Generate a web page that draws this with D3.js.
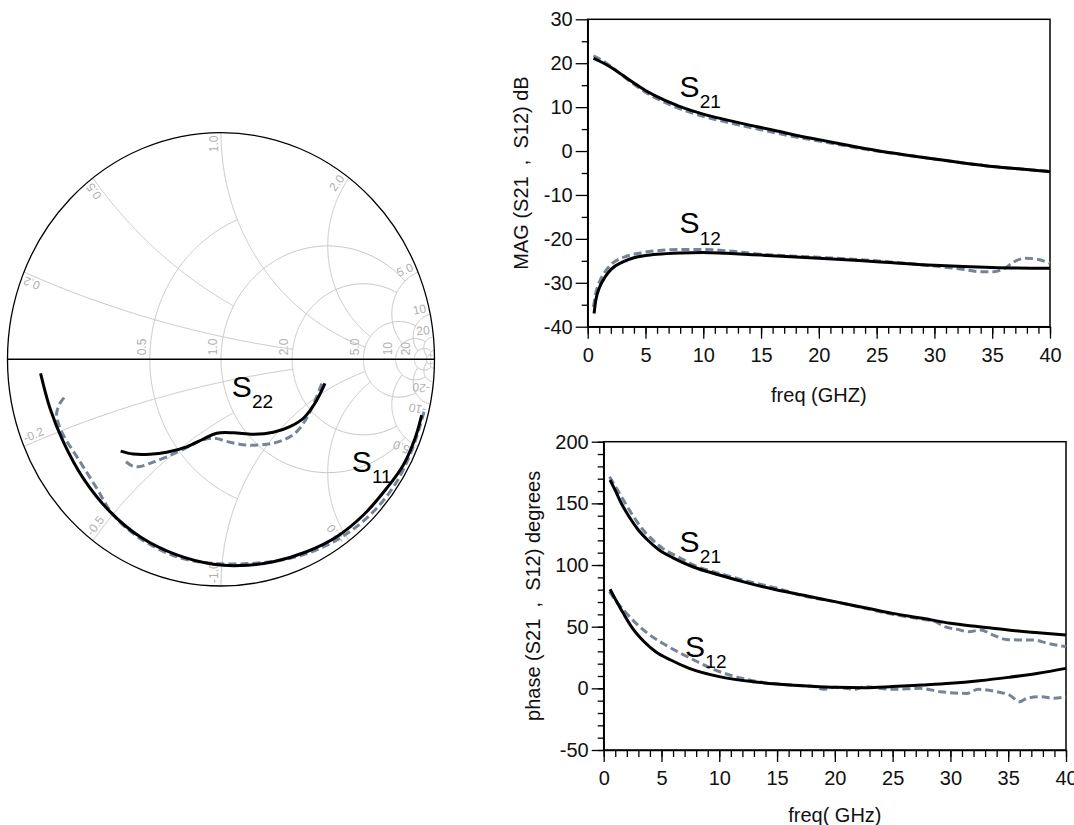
<!DOCTYPE html>
<html><head><meta charset="utf-8">
<script src="https://cdn.jsdelivr.net/npm/d3@7/dist/d3.min.js"></script>
<style>
html,body{margin:0;padding:0;background:#fff;}
svg{display:block;font-family:"Liberation Sans",Arial,Helvetica,sans-serif;}
</style></head><body>
<svg id="chart" width="1074" height="825"></svg>
<script>
// ---------------- DATA ----------------
const freqTicks = [0, 5, 10, 15, 20, 25, 30, 35, 40];
const freqMinor = d3.range(0, 41, 1);
const magTicks = [-40, -30, -20, -10, 0, 10, 20, 30];
const magMinor = [-35, -25, -15, -5, 5, 15, 25];
const phaseTicks = [-50, 0, 50, 100, 150, 200];
const phaseMinor = d3.range(-50, 201, 10);

// magnitude (dB) [GHz, dB] : solid = model, dashed = measured
const s21MagModel = [[0.5,21.1],[1,20.5],[2,19.1],[3,17.3],[4,15.5],[5,13.8],[6,12.4],[7,11.2],[8,10.1],[9,9.2],[10,8.4],[12,7.1],[14,5.9],[16,4.8],[18,3.6],[20,2.6],[22.5,1.3],[25,0.1],[27.5,-0.9],[30,-1.8],[32.5,-2.7],[35,-3.5],[37.5,-4.1],[40,-4.7]];
const s21MagMeas  = [[0.5,21.7],[1,21.0],[2,19.3],[3,17.2],[4,15.2],[5,13.4],[6,11.9],[7,10.7],[8,9.6],[9,8.7],[10,7.9],[12,6.6],[14,5.4],[16,4.3],[18,3.2],[20,2.3],[22.5,1.1],[25,0.0],[27.5,-0.9],[30,-1.8],[32.5,-2.7],[35,-3.5],[37.5,-4.1],[40,-4.6]];
const s12MagModel = [[0.55,-37.0],[0.7,-34.0],[1,-31.2],[1.5,-28.7],[2,-27.0],[3,-25.3],[4,-24.3],[5,-23.8],[6,-23.5],[8,-23.2],[10,-23.1],[12,-23.3],[15,-23.7],[20,-24.4],[25,-25.2],[30,-26.0],[35,-26.5],[40,-26.7]];
const s12MagMeas  = [[0.5,-35.5],[0.7,-32.4],[1,-29.9],[1.5,-27.5],[2,-25.9],[3,-24.3],[4,-23.5],[5,-23.0],[6,-22.7],[8,-22.4],[10,-22.4],[12,-22.7],[15,-23.5],[20,-24.2],[25,-25.0],[30,-26.2],[32.4,-26.9],[34,-27.5],[35.1,-27.5],[36.1,-26.7],[36.9,-25.2],[37.9,-24.4],[39,-24.7],[40,-25.6]];

// phase (degrees) [GHz, deg]
const s21PhModel = [[0.55,168.9],[1,160.5],[1.5,150.5],[2.2,139.2],[3,128.4],[3.8,120.3],[4.8,112.2],[6,105.8],[7.7,98.6],[10,91.9],[12.6,85.1],[15,79.7],[17.6,74.9],[20,70.3],[22.6,65.4],[25,60.8],[27.6,56.8],[30,52.7],[32.5,50.0],[35,47.3],[37.6,45.1],[40,43.2]];
const s21PhMeas  = [[0.5,171.6],[1,164],[1.7,152.7],[2.5,140.5],[3.3,129.7],[4.1,121.6],[5.1,113.5],[6.4,106.8],[7.8,100],[10,93.2],[12.6,86.5],[15,81.1],[17.6,74.3],[20,70.3],[22.6,64.9],[25,60],[27.4,56.2],[28.7,54.1],[29.5,50],[30.6,47.8],[31.6,45.9],[32.6,47.3],[33.7,43.2],[34.8,39.7],[36.1,39.2],[37.2,39.2],[38.4,36.5],[40,33.8]];
const s12PhModel = [[0.55,80.3],[1,72.5],[1.7,60.8],[2.5,48.6],[3.5,37.8],[4.5,29.7],[5.8,23.0],[7.4,16.2],[10,9.5],[12.9,5.4],[15,3.5],[17.6,1.9],[20,0.8],[22.6,0.5],[25,1.4],[27.6,2.7],[30,4.1],[32.5,6.2],[35,8.9],[37.6,12.2],[40,16.2]];
const s12PhMeas  = [[0.5,78.4],[1,71.6],[1.85,62.2],[2.8,52.7],[3.8,44.6],[5.1,36.5],[6.4,29.7],[7.8,23],[9.3,16.2],[10.9,10.8],[12.6,6.8],[14.3,4.1],[16.3,2.7],[18.2,1.4],[19,-0.8],[20,0.8],[21.8,-0.8],[22.6,1.4],[23.9,0],[25,-0.8],[27.4,0],[29.1,-2.7],[31.4,-4.1],[32.4,-0.8],[34,-2.7],[35.1,-5.4],[36,-10.8],[36.6,-8.1],[37.9,-6.8],[38.9,-8.1],[40,-6.8]];

// Smith chart traces [Re(Gamma), Im(Gamma)]
const s11Model = [[-0.845,-0.062],[-0.801,-0.216],[-0.739,-0.363],[-0.645,-0.525],[-0.520,-0.672],[-0.379,-0.783],[-0.207,-0.863],[-0.036,-0.904],[0.089,-0.910],[0.245,-0.893],[0.401,-0.849],[0.542,-0.783],[0.667,-0.687],[0.776,-0.569],[0.854,-0.466],[0.909,-0.348],[0.940,-0.246]];
const s11Meas  = [[-0.735,-0.169],[-0.754,-0.194],[-0.770,-0.238],[-0.762,-0.282],[-0.739,-0.334],[-0.660,-0.452],[-0.582,-0.569],[-0.504,-0.687],[-0.379,-0.790],[-0.207,-0.871],[-0.036,-0.900],[0.151,-0.900],[0.323,-0.878],[0.464,-0.834],[0.604,-0.760],[0.729,-0.657],[0.823,-0.540],[0.885,-0.422],[0.924,-0.319],[0.951,-0.231]];
const s22Model = [[-0.470,-0.405],[-0.411,-0.418],[-0.333,-0.419],[-0.254,-0.410],[-0.161,-0.386],[-0.083,-0.352],[-0.020,-0.326],[0.058,-0.324],[0.151,-0.331],[0.245,-0.322],[0.323,-0.297],[0.386,-0.260],[0.440,-0.194],[0.487,-0.106]];
const s22Meas  = [[-0.445,-0.452],[-0.418,-0.469],[-0.387,-0.474],[-0.333,-0.459],[-0.254,-0.430],[-0.177,-0.397],[-0.098,-0.360],[-0.036,-0.348],[0.042,-0.366],[0.120,-0.378],[0.214,-0.375],[0.292,-0.356],[0.355,-0.319],[0.409,-0.246],[0.448,-0.165],[0.476,-0.099]];

// Smith grid
const smithR = [0.5, 1, 2, 5, 10, 20, 50];
const smithRLimit = [1, 5, 5, 10, 20, 50, 100];
const smithRLabels = ["0.5", "1.0", "2.0", "5.0", "10", "20"];
const smithX = [0.2, 0.5, 1, 2, 5, 10, 20, 50];
const smithXLimit = [2, 1, 5, 5, 10, 20, 50, 100];
const smithXLabels = ["0.2", "0.5", "1.0", "2.0", "5.0", "10", "20"];

// ---------------- DRAW ----------------
const svg = d3.select("#chart");
const BLACK = "#000";
const DASH = "#76849a";

// ---- Smith chart ----
const gx = d3.scaleLinear().domain([-1, 1]).range([7.5, 434.5]);
const gy = d3.scaleLinear().domain([-1, 1]).range([586, 132.6]);
const gamma = (r, x) => { const d = (r + 1) * (r + 1) + x * x; return [(r * r - 1 + x * x) / d, 2 * x / d]; };
const gLine = d3.line().x(d => gx(d[0])).y(d => gy(d[1]));

const grid = svg.append("g").attr("fill", "none").attr("stroke", "#c6c6c6").attr("stroke-width", 1);
smithR.forEach((r, i) => {
  const lim = Math.atan(smithRLimit[i]);
  const pts = d3.range(0, 401).map(k => gamma(r, Math.tan(-lim + 2 * lim * k / 400)));
  grid.append("path").attr("d", gLine(pts));
});
smithX.forEach((x, i) => {
  const lim = Math.atan(smithXLimit[i]);
  [x, -x].forEach(xx => {
    const pts = d3.range(0, 301).map(k => gamma(Math.tan(lim * k / 300), xx));
    grid.append("path").attr("d", gLine(pts));
  });
});

const labG = svg.append("g").attr("fill", "#b0b0b0").attr("font-size", 12);
smithRLabels.forEach((lab, i) => {
  const g = gamma(smithR[i], 0);
  const px = gx(g[0]) - 4, py = gy(0) - 4;
  labG.append("text").attr("transform", `translate(${px},${py}) rotate(-90)`).attr("text-anchor", "start").text(lab);
});
const ccx = gx(0), ccy = gy(0);
smithXLabels.forEach((lab, i) => {
  const x = smithX[i];
  [1, -1].forEach(sg => {
    const g = gamma(0, sg * x);
    let px = gx(g[0]), py = gy(g[1]);
    const vx = ccx - px, vy = ccy - py, n = Math.hypot(vx, vy);
    px += vx / n * 3; py += vy / n * 3;
    const th = Math.atan2(g[1], g[0]) * 180 / Math.PI;
    const rot = sg > 0 ? -th : -(th + 180);
    labG.append("text").attr("transform", `translate(${px},${py}) rotate(${rot})`)
      .attr("dy", -3).attr("text-anchor", sg > 0 ? "end" : "start")
      .text(sg > 0 ? lab : "-" + lab);
  });
});

svg.append("ellipse").attr("cx", gx(0)).attr("cy", gy(0)).attr("rx", gx(1) - gx(0)).attr("ry", gy(-1) - gy(0))
  .attr("fill", "none").attr("stroke", BLACK).attr("stroke-width", 1.3);
svg.append("line").attr("x1", gx(-1)).attr("x2", gx(1)).attr("y1", gy(0)).attr("y2", gy(0))
  .attr("stroke", BLACK).attr("stroke-width", 1.5);

const gCurve = d3.line().x(d => gx(d[0])).y(d => gy(d[1])).curve(d3.curveCatmullRom.alpha(0.5));
function trace(g, data, curve, dashed) {
  g.append("path").attr("d", curve(data)).attr("fill", "none")
    .attr("stroke", dashed ? DASH : BLACK).attr("stroke-width", 3)
    .attr("stroke-dasharray", dashed ? "8,4" : null).attr("stroke-linecap", "butt");
}
trace(svg, s11Meas, gCurve, true);
trace(svg, s11Model, gCurve, false);
trace(svg, s22Meas, gCurve, true);
trace(svg, s22Model, gCurve, false);

function sLabel(px, py, sub) {
  svg.append("text").attr("x", px).attr("y", py).attr("font-size", 30).attr("fill", "#000").text("S");
  svg.append("text").attr("x", px + 20.3).attr("y", py + 11.6).attr("font-size", 19).attr("fill", "#000").text(sub);
}
sLabel(gx(0.050), gy(-0.165), "22");
sLabel(gx(0.612), gy(-0.496), "11");

// ---- Rectangular panels ----
function panel(x, y, yTicks, yMinor, xTitle, yTitle, yTitleX, xTitleY) {
  const g = svg.append("g");
  const [x0, x1] = x.range(), [yb, yt] = y.range();
  g.append("g").attr("transform", `translate(0,${yb})`)
    .call(d3.axisBottom(x).tickValues(freqMinor).tickSize(7).tickFormat(""))
    .call(s => s.select(".domain").remove());
  g.append("g").attr("transform", `translate(${x0},0)`)
    .call(d3.axisLeft(y).tickValues(yMinor).tickSize(6).tickFormat(""))
    .call(s => s.select(".domain").remove());
  const ax = g.append("g").attr("transform", `translate(0,${yb})`)
    .call(d3.axisBottom(x).tickValues(freqTicks).tickSize(12).tickSizeOuter(0).tickPadding(9).tickFormat(d => String(d)));
  const ay = g.append("g").attr("transform", `translate(${x0},0)`)
    .call(d3.axisLeft(y).tickValues(yTicks).tickSize(12).tickSizeOuter(0).tickPadding(3).tickFormat(d => String(d)));
  g.selectAll(".tick line").attr("stroke", BLACK).attr("stroke-width", 1.3);
  [ax, ay].forEach(a => {
    a.attr("font-family", null).attr("font-size", null);
    a.selectAll("text").attr("font-size", 20).attr("fill", "#111");
    a.select(".domain").attr("stroke-width", 1.5);
  });
  g.append("rect").attr("x", x0).attr("y", yt).attr("width", x1 - x0).attr("height", yb - yt)
    .attr("fill", "none").attr("stroke", BLACK).attr("stroke-width", 1.5);
  g.append("text").attr("x", (x0 + x1) / 2).attr("y", xTitleY).attr("text-anchor", "middle")
    .attr("font-size", 20).attr("fill", "#111").text(xTitle);
  g.append("text").attr("transform", `translate(${yTitleX},${(yb + yt) / 2}) rotate(-90)`)
    .attr("text-anchor", "middle").attr("font-size", 20).attr("fill", "#111")
    .style("white-space", "pre").attr("xml:space", "preserve").text(yTitle);
  return g;
}

const xTop = d3.scaleLinear().domain([0, 40]).range([587.7, 1050]);
const yTop = d3.scaleLinear().domain([-40, 30]).range([326.7, 19.3]);
const xBot = d3.scaleLinear().domain([0, 40]).range([603.7, 1066]);
const yBot = d3.scaleLinear().domain([-50, 200]).range([750, 441.7]);

panel(xTop, yTop, magTicks, magMinor, "freq (GHZ)", "MAG (S21  ,  S12) dB", 528, 402);
panel(xBot, yBot, phaseTicks, phaseMinor, "freq( GHz)", "phase (S21  ,  S12) degrees", 540, 822);

const lTop = d3.line().x(d => xTop(d[0])).y(d => yTop(d[1])).curve(d3.curveMonotoneX);
const lBot = d3.line().x(d => xBot(d[0])).y(d => yBot(d[1])).curve(d3.curveMonotoneX);
trace(svg, s21MagMeas, lTop, true);
trace(svg, s21MagModel, lTop, false);
trace(svg, s12MagMeas, lTop, true);
trace(svg, s12MagModel, lTop, false);
trace(svg, s21PhMeas, lBot, true);
trace(svg, s21PhModel, lBot, false);
trace(svg, s12PhMeas, lBot, true);
trace(svg, s12PhModel, lBot, false);

sLabel(xTop(7.94), yTop(12.37), "21");
sLabel(xTop(7.94), yTop(-18.67), "12");
sLabel(xBot(6.56), yBot(110.8), "21");
sLabel(xBot(7.04), yBot(25.7), "12");
</script></body></html>
